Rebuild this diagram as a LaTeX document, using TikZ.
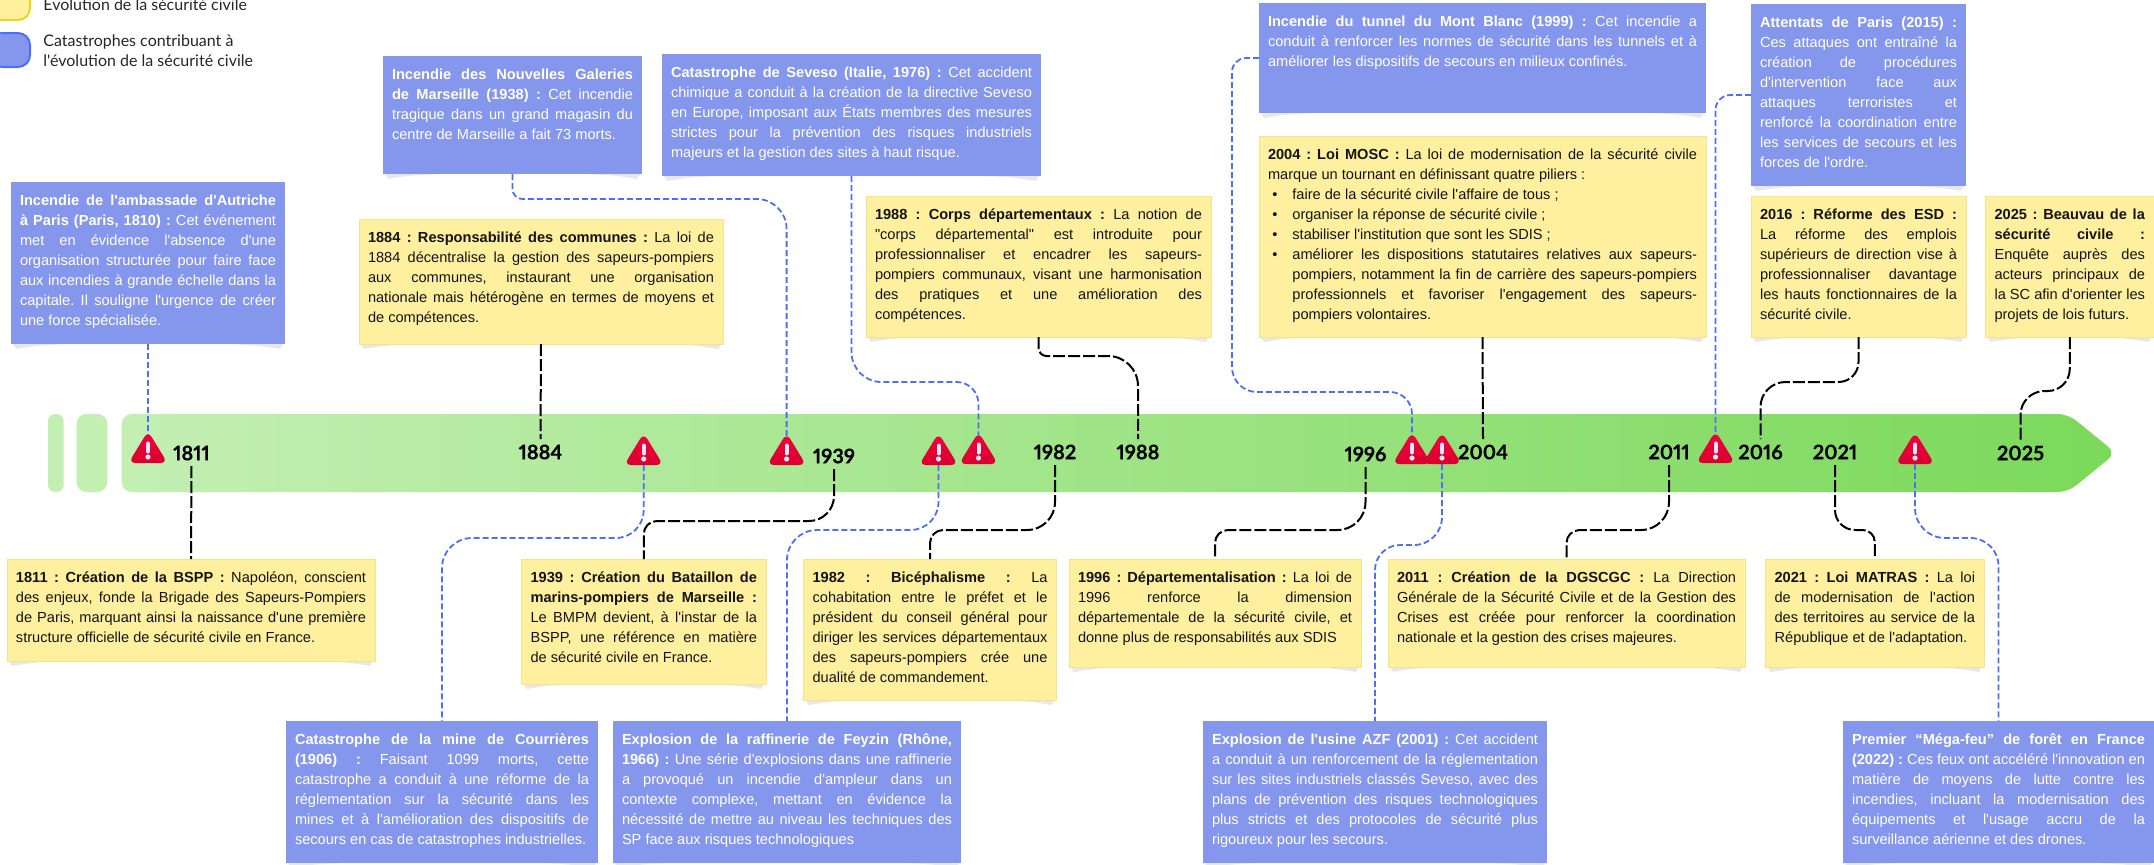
\documentclass[tikz,border=0pt]{standalone}
\usepackage{fontspec}
\newfontfamily\bodyf{Liberation Sans}
\newfontfamily\legf{Lato}
\newfontfamily\yearf[Numbers=Proportional,BoldFeatures={FakeBold=0.25}]{Lato}
\frenchspacing
\definecolor{yfill}{HTML}{FFF0A0}
\definecolor{yedge}{HTML}{F5E48C}
\definecolor{bfill}{HTML}{8497EC}
\definecolor{bline}{HTML}{4F6EF7}
\definecolor{shadowc}{HTML}{E8E8E8}
\definecolor{gleft}{HTML}{C3EFB3}
\definecolor{gright}{HTML}{7BD95A}
\definecolor{markc}{HTML}{ECE6F5}
\definecolor{warntop}{HTML}{F5003C}
\definecolor{warnbot}{HTML}{D80030}
\definecolor{keyy}{HTML}{EBD41E}
\tikzset{
  yellowbox/.style={fill=yfill,draw=yedge,line width=.4pt,text=black!92,outer sep=0pt,inner xsep=4.5pt,inner ysep=0pt},
  bluebox/.style={fill=bfill,text=white,outer sep=0pt,inner xsep=4.5pt,inner ysep=0pt},
  yearlabel/.style={font=\yearf\bfseries\fontsize{10pt}{12pt}\selectfont,text=black,inner sep=0pt,outer sep=0pt,minimum height=13pt},
  warnanchor/.style={inner sep=0pt,outer sep=0pt,minimum width=15.5pt,minimum height=13.5pt},
  blackconn/.style={draw=black,line width=1pt,dash pattern=on 6pt off 1.5pt},
  blueconn/.style={draw=bline,line width=.9pt,dash pattern=on 3pt off 1.5pt},
  legendtext/.style={font=\legf\fontsize{8pt}{10pt}\selectfont,text=black!85,align=left,anchor=west,inner sep=0pt},
  yellowkey/.style={fill=yfill,draw=keyy,line width=1pt,rounded corners=6pt},
  bluekey/.style={fill=bfill,draw=bline,line width=1pt,rounded corners=6pt},
}
\newcommand{\strutl}{\rule{0pt}{7.5pt}\rule[-2.5pt]{0pt}{2.5pt}}
\newcommand{\jl}[1]{\hbox to \linewidth{\strutl #1}}
\newcommand{\el}[1]{\hbox{\strutl #1}}
\newcommand{\jli}[1]{\hbox to \linewidth{\strutl\hskip 12.2pt #1}}
\newcommand{\eli}[1]{\hbox{\strutl\hskip 12.2pt #1}}
\newcommand{\bli}[1]{\hbox{\strutl\hskip 2.2pt\hbox to 10pt{\textbullet\hss}#1}}
\newcommand{\blj}[1]{\hbox to \linewidth{\strutl\hskip 2.2pt\hbox to 10pt{\textbullet\hss}#1}}
% name, style, x1, y1, x2, y2, lines
\newcommand{\tbox}[7]{%
  \pgfmathsetmacro{\bw}{(#5-#3)*0.5-9}%
  \pgfmathsetmacro{\bh}{(#6-#4)*0.5}%
  \pgfmathsetmacro{\bcx}{(#3+#5)/2}%
  \pgfmathsetmacro{\bcy}{(#4+#6)/2}%
  \fill[shadowc] (#3+2,#6) -- (#3+5,#6+5) .. controls (#3+30,#6+1) .. (#3+60,#6) -- (#5-60,#6) .. controls (#5-30,#6+1) .. (#5-5,#6+5) -- (#5-2,#6) -- cycle;
  \node[#2] (#1) at (\bcx,\bcy) {\parbox[c][\bh pt][t]{\bw pt}{\bodyf\fontsize{7.3pt}{10pt}\selectfont\lineskip=0pt\baselineskip=10pt\vspace*{4pt}#7}};
}
% style, start, level, end, r1, r2
\newcommand{\conn}[6]{\draw[#1,rounded corners=#5pt] (#2) -- (#2 |- 0,#3) [rounded corners=#6pt] -- (#4 |- 0,#3) -- (#4);}
\begin{document}
\begin{tikzpicture}[x=.5pt,y=-.5pt]
\path[use as bounding box,clip] (0,0) rectangle (2154,864);
% legend
\draw[yellowkey] (-10,-20) rectangle (30,20);
\draw[bluekey] (-10,33) rectangle (30,67);
\node[legendtext] (lega) at (43,5) {Evolution de la sécurité civile};
\node[legendtext] (legb) at (43,51) {Catastrophes contribuant à\\l'évolution de la sécurité civile};
% band
\fill[gleft,rounded corners=3.5pt] (48,414) rectangle (63.7,492);
\fill[gleft,rounded corners=5pt] (76.5,414) rectangle (107.4,492);
\shade[left color=gleft,right color=gright,rounded corners=5pt] (121.7,453) -- (121.7,414) -- (2068,414) -- (2116,453) -- (2068,492) -- (121.7,492) -- cycle;
% icon anchors
\foreach \n/\x/\y in {w1/148/436,w2/643.7/438,w3/786.6/438,w4/938.5/438,w5/978.5/437,w6/1412/437,w7/1442/437,w8/1715.5/436,w9/1915/437}
  \node[warnanchor] (\n) at (\x,\y+13.5) {};
% years
\node[yearlabel] (t1811) at (191.5,453) {1811};
\node[yearlabel] (t1884) at (540.5,452) {1884};
\node[yearlabel] (t1939) at (834,456) {1939};
\node[yearlabel] (t1982) at (1055,452) {1982};
\node[yearlabel] (t1988) at (1138,452) {1988};
\node[yearlabel] (t1996) at (1365.5,454) {1996};
\node[yearlabel] (t2004) at (1483,452) {2004};
\node[yearlabel] (t2011) at (1669,452) {2011};
\node[yearlabel] (t2016) at (1760.5,452) {2016};
\node[yearlabel] (t2021) at (1835,452) {2021};
\node[yearlabel] (t2025) at (2020.5,453) {2025};
% blue boxes
\tbox{b1}{bluebox}{11}{182}{285}{344}{%
\jl{\textbf{Incendie de l'ambassade d'Autriche}}
\jl{\textbf{à Paris (Paris, 1810) :} Cet événement}
\jl{met en évidence l'absence d'une}
\jl{organisation structurée pour faire face}
\jl{aux incendies à grande échelle dans la}
\jl{capitale. Il souligne l'urgence de créer}
\el{une force spécialisée.}}
\tbox{b2}{bluebox}{383}{56}{642}{174}{%
\jl{\textbf{Incendie des Nouvelles Galeries}}
\jl{\textbf{de Marseille (1938) :} Cet incendie}
\jl{tragique dans un grand magasin du}
\el{centre de Marseille a fait 73 morts.}}
\tbox{b3}{bluebox}{662}{54}{1041}{176}{%
\jl{\textbf{Catastrophe de Seveso (Italie, 1976) :} Cet accident}
\jl{chimique a conduit à la création de la directive Seveso}
\jl{en Europe, imposant aux États membres des mesures}
\jl{strictes pour la prévention des risques industriels}
\el{majeurs et la gestion des sites à haut risque.}}
\tbox{b4}{bluebox}{1259}{3}{1706}{113}{%
\jl{\textbf{Incendie du tunnel du Mont Blanc (1999) :} Cet incendie a}
\jl{conduit à renforcer les normes de sécurité dans les tunnels et à}
\el{améliorer les dispositifs de secours en milieux confinés.}}
\tbox{b5}{bluebox}{1751}{4}{1966}{186}{%
\jl{\textbf{Attentats de Paris (2015) :}}
\jl{Ces attaques ont entraîné la}
\jl{création de procédures}
\jl{d'intervention face aux}
\jl{attaques terroristes et}
\jl{renforcé la coordination entre}
\jl{les services de secours et les}
\el{forces de l'ordre.}}
\tbox{b6}{bluebox}{286}{721}{598}{863}{%
\jl{\textbf{Catastrophe de la mine de Courrières}}
\jl{\textbf{(1906) :} Faisant 1099 morts, cette}
\jl{catastrophe a conduit à une réforme de la}
\jl{réglementation sur la sécurité dans les}
\jl{mines et à l'amélioration des dispositifs de}
\el{secours en cas de catastrophes industrielles.}}
\tbox{b7}{bluebox}{613}{721}{961}{863}{%
\jl{\textbf{Explosion de la raffinerie de Feyzin (Rhône,}}
\jl{\textbf{1966) :} Une série d'explosions dans une raffinerie}
\jl{a provoqué un incendie d'ampleur dans un}
\jl{contexte complexe, mettant en évidence la}
\jl{nécessité de mettre au niveau les techniques des}
\el{SP face aux risques technologiques}}
\tbox{b8}{bluebox}{1203}{721}{1547}{863}{%
\jl{\textbf{Explosion de l'usine AZF (2001) :} Cet accident}
\jl{a conduit à un renforcement de la réglementation}
\jl{sur les sites industriels classés Seveso, avec des}
\jl{plans de prévention des risques technologiques}
\jl{plus stricts et des protocoles de sécurité plus}
\el{rigoureux pour les secours.}}
\tbox{b9}{bluebox}{1843}{721}{2154}{863}{%
\jl{\textbf{Premier “Méga-feu” de forêt en France}}
\jl{\textbf{(2022) :} Ces feux ont accéléré l'innovation en}
\jl{matière de moyens de lutte contre les}
\jl{incendies, incluant la modernisation des}
\jl{équipements et l'usage accru de la}
\el{surveillance aérienne et des drones.}}
% yellow boxes
\tbox{y1}{yellowbox}{7}{559}{375}{661}{%
\jl{\textbf{1811 : Création de la BSPP :} Napoléon, conscient}
\jl{des enjeux, fonde la Brigade des Sapeurs-Pompiers}
\jl{de Paris, marquant ainsi la naissance d'une première}
\el{structure officielle de sécurité civile en France.}}
\tbox{y2}{yellowbox}{359}{219}{723}{344}{%
\jl{\textbf{1884 : Responsabilité des communes :} La loi de}
\jl{1884 décentralise la gestion des sapeurs-pompiers}
\jl{aux communes, instaurant une organisation}
\jl{nationale mais hétérogène en termes de moyens et}
\el{de compétences.}}
\tbox{y3}{yellowbox}{866}{196}{1211}{337}{%
\jl{\textbf{1988 : Corps départementaux :} La notion de}
\jl{"corps départemental" est introduite pour}
\jl{professionnaliser et encadrer les sapeurs-}
\jl{pompiers communaux, visant une harmonisation}
\jl{des pratiques et une amélioration des}
\el{compétences.}}
\tbox{y4}{yellowbox}{1259}{136}{1706}{337}{%
\jl{\textbf{2004 : Loi MOSC :} La loi de modernisation de la sécurité civile}
\el{marque un tournant en définissant quatre piliers :}
\bli{faire de la sécurité civile l'affaire de tous ;}
\bli{organiser la réponse de sécurité civile ;}
\bli{stabiliser l'institution que sont les SDIS ;}
\blj{améliorer les dispositions statutaires relatives aux sapeurs-}
\jli{pompiers, notamment la fin de carrière des sapeurs-pompiers}
\jli{professionnels et favoriser l'engagement des sapeurs-}
\eli{pompiers volontaires.}}
\tbox{y5}{yellowbox}{1751}{196}{1966}{337}{%
\jl{\textbf{2016 : Réforme des ESD :}}
\jl{La réforme des emplois}
\jl{supérieurs de direction vise à}
\jl{professionnaliser davantage}
\jl{les hauts fonctionnaires de la}
\el{sécurité civile.}}
\tbox{y6}{yellowbox}{1985.5}{196}{2154}{337}{%
\jl{\textbf{2025 : Beauvau de la}}
\jl{\textbf{sécurité civile :}}
\jl{Enquête auprès des}
\jl{acteurs principaux de}
\jl{la SC afin d'orienter les}
\el{projets de lois futurs.}}
\tbox{y7}{yellowbox}{521.6}{559}{766}{684}{%
\jl{\textbf{1939 : Création du Bataillon de}}
\jl{\textbf{marins-pompiers de Marseille :}}
\jl{Le BMPM devient, à l'instar de la}
\jl{BSPP, une référence en matière}
\el{de sécurité civile en France.}}
\tbox{y8}{yellowbox}{803.6}{559}{1056.5}{700}{%
\jl{\textbf{1982 : Bicéphalisme :} La}
\jl{cohabitation entre le préfet et le}
\jl{président du conseil général pour}
\jl{diriger les services départementaux}
\jl{des sapeurs-pompiers crée une}
\el{dualité de commandement.}}
\tbox{y9}{yellowbox}{1069}{559}{1361}{667}{%
\jl{\textbf{1996 : Départementalisation :} La loi de}
\jl{1996 renforce la dimension}
\jl{départementale de la sécurité civile, et}
\el{donne plus de responsabilités aux SDIS}}
\tbox{y10}{yellowbox}{1388}{559}{1745}{667}{%
\jl{\textbf{2011 : Création de la DGSCGC :} La Direction}
\jl{Générale de la Sécurité Civile et de la Gestion des}
\jl{Crises est créée pour renforcer la coordination}
\el{nationale et la gestion des crises majeures.}}
\tbox{y11}{yellowbox}{1765.6}{559}{1984}{667}{%
\jl{\textbf{2021 : Loi MATRAS :} La loi}
\jl{de modernisation de l'action}
\jl{des territoires au service de la}
\el{République et de l'adaptation.}}
% black connectors
\draw[blackconn] (t1811.south) -- (y1.north);
\draw[blackconn] (y2.south) -- (t1884.north);
\draw[blackconn] (y4.south) -- (t2004.north);
\conn{blackconn}{t1939.south}{521}{y7.north}{12.5}{6.5}
\conn{blackconn}{t1982.south}{530}{y8.north}{14}{6.5}
\conn{blackconn}{t1996.south}{530}{y9.north}{14}{6.5}
\conn{blackconn}{t2011.south}{530}{y10.north}{14}{6.5}
\conn{blackconn}{t2021.south}{530}{y11.north}{10}{6}
\conn{blackconn}{y3.south}{356}{t1988.north}{4}{15}
\conn{blackconn}{y5.south}{382}{t2016.north}{10}{12.5}
\conn{blackconn}{y6.south}{391}{t2025.north}{11}{12}
% blue connectors
\draw[blueconn] (b1.south) -- (w1.north);
\conn{blueconn}{b2.south}{199}{w3.north}{5}{15}
\conn{blueconn}{b3.south}{382}{w5.north}{15}{11}
\draw[blueconn,rounded corners=7pt] (b4.west) -- (1232,58) [rounded corners=12.5pt] -- (1232,392) [rounded corners=11pt] -- (w6.north |- 0,392) -- (w6.north);
\draw[blueconn,rounded corners=7.5pt] (b5.west) -- (w8.north |- b5.west) -- (w8.north);
\conn{blueconn}{w2.south}{538}{b6.north}{14}{15}
\conn{blueconn}{w4.south}{530}{b7.north}{14}{15}
\conn{blueconn}{w7.south}{545}{b8.north}{14}{12.5}
\conn{blueconn}{w9.south}{538}{b9.north}{15}{14}
% warning icons
\foreach \x/\y in {148/436,643.7/438,786.6/438,938.5/438,978.5/437,1412/437,1442/437,1715.5/436,1915/437}{
  \shade[top color=warntop,bottom color=warnbot,rounded corners=3.5pt] (\x,\y-5) -- (\x+19.5,\y+27) -- (\x-19.5,\y+27) -- cycle;
  \draw[markc,line width=2pt,line cap=round] (\x,\y+7.5) -- (\x,\y+15.5);
  \fill[markc] (\x,\y+21) circle (2.6);
}
\end{tikzpicture}
\end{document}
